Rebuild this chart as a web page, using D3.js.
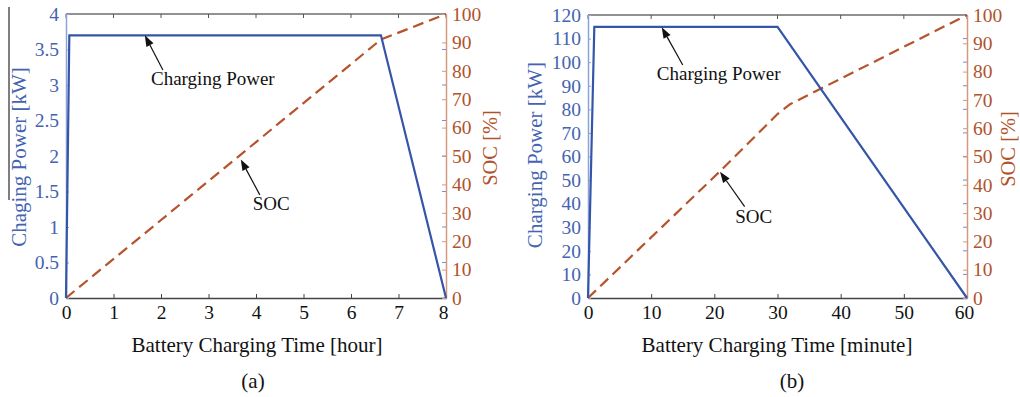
<!DOCTYPE html>
<html><head><meta charset="utf-8">
<script src="https://cdn.jsdelivr.net/npm/d3@7"></script>
<style>body{margin:0;background:#fff}svg{display:block}text{font-family:"Liberation Serif","Times New Roman",serif}</style>
</head><body>
<svg id="c" width="1020" height="397"></svg>
<script>
// ---- data ----
const timeA = [0, 0.07, 6.63, 8];
const powerA = [0, 3.7, 3.7, 0];
const socTimeA = [0, 6.63, 8];
const socA = [0, 91, 100];

const timeB = [0, 1, 30, 60];
const powerB = [0, 115, 115, 0];
const socTimeB = [0, 21, 30, 32, 60];
const socB = [0, 45, 65, 68.5, 100];

const xTicksA = [0, 1, 2, 3, 4, 5, 6, 7, 8];
const yTicksA = [0, 0.5, 1, 1.5, 2, 2.5, 3, 3.5, 4];
const xTicksB = [0, 10, 20, 30, 40, 50, 60];
const yTicksB = [0, 10, 20, 30, 40, 50, 60, 70, 80, 90, 100, 110, 120];
const socTicks = [0, 10, 20, 30, 40, 50, 60, 70, 80, 90, 100];

const BLUE = "#3556a8", BLUE_T = "#4463b0", BLUE_AX = "#8aa3d8";
const ORG = "#b5532b", ORG_T = "#b0522c", ORG_AX = "#d39a80";

const svg = d3.select("#c");

function panel(cfg) {
  const g = svg.append("g");
  const x = d3.scaleLinear().domain(cfg.xDom).range([cfg.x0, cfg.x1]);
  const yL = d3.scaleLinear().domain(cfg.yDom).range([cfg.yB, cfg.yT]);
  const yR = d3.scaleLinear().domain([0, 100]).range([cfg.yB, cfg.yT]);

  // top border
  g.append("line").attr("x1", cfg.x0).attr("x2", cfg.x1).attr("y1", cfg.yT).attr("y2", cfg.yT)
    .attr("stroke", "#6d6d6d").attr("stroke-width", 1.5);
  g.selectAll(".tt").data(cfg.xTicks).join("line")
    .attr("x1", d => x(d)).attr("x2", d => x(d)).attr("y1", cfg.yT).attr("y2", cfg.yT + 4)
    .attr("stroke", "#555").attr("stroke-width", 1);

  // bottom axis
  const xb = d3.axisBottom(x).tickValues(cfg.xTicks).tickSizeInner(-4).tickSizeOuter(0).tickPadding(7).tickFormat(d3.format("d"));
  const gx = g.append("g").attr("transform", `translate(0,${cfg.yB})`).call(xb);
  gx.select(".domain").attr("stroke", "#444").attr("stroke-width", 1.5);
  gx.selectAll(".tick line").attr("stroke", "#444");
  gx.selectAll(".tick text").attr("font-size", 19.5).attr("fill", "#111").attr("dy", "0.71em")
    .attr("dx", (d, i, n) => i === n.length - 1 ? -3 : 0);

  // left axis
  const ya = d3.axisLeft(yL).tickValues(cfg.yTicks).tickSizeInner(-3).tickSizeOuter(0).tickPadding(7)
    .tickFormat(d => String(d));
  const gy = g.append("g").attr("transform", `translate(${cfg.x0},0)`).call(ya);
  gy.select(".domain").attr("stroke", BLUE_AX).attr("stroke-width", 1.5);
  gy.selectAll(".tick line").attr("stroke", BLUE_AX);
  gy.selectAll(".tick text").attr("font-size", 19.5).attr("fill", BLUE_T);

  // mirrored left ticks on right side
  g.selectAll(".mt").data(cfg.yTicks).join("line")
    .attr("x1", cfg.x1).attr("x2", cfg.x1 - 4).attr("y1", d => yL(d)).attr("y2", d => yL(d))
    .attr("stroke", "#6f8fd0").attr("stroke-width", 1);

  // right axis
  const yr = d3.axisRight(yR).tickValues(socTicks).tickSizeInner(-4).tickSizeOuter(0).tickPadding(6);
  const gr = g.append("g").attr("transform", `translate(${cfg.x1},0)`).call(yr);
  gr.select(".domain").attr("stroke", ORG_AX).attr("stroke-width", 1.5);
  gr.selectAll(".tick line").attr("stroke", ORG_AX);
  gr.selectAll(".tick text").attr("font-size", 19.5).attr("fill", ORG_T);

  // lines
  const lp = d3.line().x(d => x(d[0])).y(d => yL(d[1]));
  const ls = d3.line().x(d => x(d[0])).y(d => yR(d[1]));
  g.append("path").datum(cfg.sT.map((t, i) => [t, cfg.sV[i]])).attr("d", ls)
    .attr("fill", "none").attr("stroke", ORG).attr("stroke-width", 2.2).attr("stroke-dasharray", "11,6");
  g.append("path").datum(cfg.pT.map((t, i) => [t, cfg.pV[i]])).attr("d", lp)
    .attr("fill", "none").attr("stroke", BLUE).attr("stroke-width", 2.2).attr("stroke-linejoin", "miter");

  // annotations
  cfg.notes.forEach(n => {
    const sc = n.axis === "L" ? yL : yR;
    const tx = x(n.tip[0]), ty = sc(n.tip[1]);
    const ax = x(n.tail[0]), ay = sc(n.tail[1]);
    const ang = Math.atan2(ty - ay, tx - ax);
    const L = 11, W = 4;
    const bx = tx - L * Math.cos(ang), by = ty - L * Math.sin(ang);
    g.append("line").attr("x1", ax).attr("y1", ay).attr("x2", bx).attr("y2", by)
      .attr("stroke", "#111").attr("stroke-width", 1.2);
    g.append("path").attr("d", `M${tx},${ty}L${bx + W * Math.sin(ang)},${by - W * Math.cos(ang)}L${bx - W * Math.sin(ang)},${by + W * Math.cos(ang)}Z`)
      .attr("fill", "#111");
    g.append("text").attr("x", x(n.text[0])).attr("y", sc(n.text[1])).attr("font-size", 19)
      .attr("fill", "#111").text(n.label);
  });

  // axis titles
  g.append("text").attr("transform", `translate(${cfg.lx},${cfg.ly}) rotate(-90)`).attr("text-anchor", "middle")
    .attr("font-size", 21).attr("fill", BLUE_T).text(cfg.yTitle);
  g.append("text").attr("transform", `translate(${cfg.rx},${cfg.ry}) rotate(-90)`).attr("text-anchor", "middle")
    .attr("font-size", 20.5).attr("fill", ORG_T).text("SOC [%]");
  g.append("text").attr("x", cfg.xtx).attr("y", 352).attr("text-anchor", "middle")
    .attr("font-size", 21).attr("fill", "#111").text(cfg.xTitle);
  g.append("text").attr("x", cfg.capx).attr("y", 388).attr("text-anchor", "middle")
    .attr("font-size", 21).attr("fill", "#111").text(cfg.cap);
  return g;
}

// artifact line near left title
svg.append("line").attr("x1", 9).attr("x2", 9).attr("y1", 7).attr("y2", 200).attr("stroke", "#555").attr("stroke-width", 1.5);

panel({
  x0: 66, x1: 446, yT: 14, yB: 298, xDom: [0, 8], yDom: [0, 4],
  xTicks: xTicksA, yTicks: yTicksA,
  pT: timeA, pV: powerA, sT: socTimeA, sV: socA,
  yTitle: "Chaging Power [kW]", lx: 26, ly: 157, rx: 497, ry: 148,
  xTitle: "Battery Charging Time [hour]", xtx: 257, cap: "(a)", capx: 253,
  notes: [
    {axis: "L", tip: [1.66, 3.7], tail: [2.04, 3.21], text: [1.79, 3.0], label: "Charging Power"},
    {axis: "R", tip: [3.68, 48.8], tail: [4.08, 36.3], text: [3.93, 31], label: "SOC"}
  ]
});
panel({
  x0: 588, x1: 967, yT: 15, yB: 298, xDom: [0, 60], yDom: [0, 120],
  xTicks: xTicksB, yTicks: yTicksB,
  pT: timeB, pV: powerB, sT: socTimeB, sV: socB,
  yTitle: "Charging Power [kW]", lx: 542, ly: 155, rx: 1015, ry: 149,
  xTitle: "Battery Charging Time [minute]", xtx: 777, cap: "(b)", capx: 792,
  notes: [
    {axis: "L", tip: [11.67, 114.8], tail: [15.0, 98.8], text: [10.9, 92.4], label: "Charging Power"},
    {axis: "R", tip: [20.9, 44.6], tail: [24.8, 32.3], text: [23.3, 26.4], label: "SOC"}
  ]
});
</script>
</body></html>
